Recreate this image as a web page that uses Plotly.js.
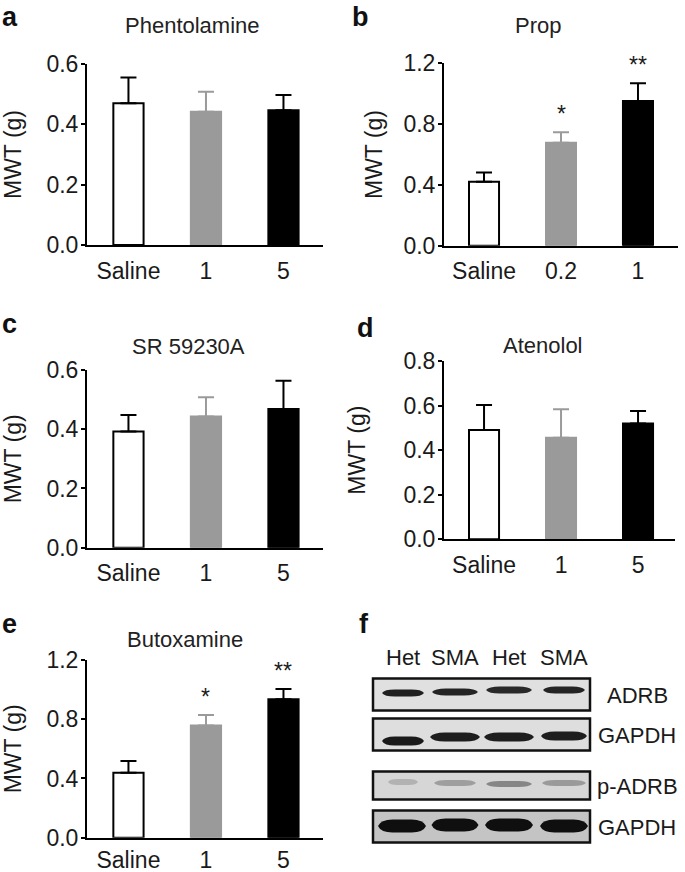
<!DOCTYPE html>
<html>
<head>
<meta charset="utf-8">
<script src="https://cdn.plot.ly/plotly-3.0.1.min.js"></script>
<style>html,body{margin:0;padding:0;background:#fff;}#chart{width:685px;height:872px;}</style>
</head>
<body>
<div id="chart"></div>
<script>
// ---------------- DATA ----------------
const catsA = ['Saline', '1', '5'];
const meanA = [0.470, 0.442, 0.447];
const errA  = [0.085, 0.066, 0.050];

const catsB = ['Saline', '0.2', '1'];
const meanB = [0.421, 0.678, 0.952];
const errB  = [0.060, 0.068, 0.116];
const starsB = ['', '*', '**'];

const catsC = ['Saline', '1', '5'];
const meanC = [0.392, 0.443, 0.468];
const errC  = [0.056, 0.065, 0.096];

const catsD = ['Saline', '1', '5'];
const meanD = [0.490, 0.456, 0.520];
const errD  = [0.113, 0.127, 0.056];

const catsE = ['Saline', '1', '5'];
const meanE = [0.439, 0.757, 0.935];
const errE  = [0.079, 0.072, 0.070];
const starsE = ['', '*', '**'];

const panelTitles = ['Phentolamine', 'Prop', 'SR 59230A', 'Atenolol', 'Butoxamine'];
const panelLetters = ['a', 'b', 'c', 'd', 'e', 'f'];
const yTitle = 'MWT (g)';

// Western blot (panel f)
const blotLanes = ['Het', 'SMA', 'Het', 'SMA'];
const blotRows = ['ADRB', 'GAPDH', 'p-ADRB', 'GAPDH'];
const bandADRB  = [0.92, 0.90, 0.88, 0.90];
const bandGAPDH1 = [0.95, 0.93, 0.93, 0.93];
const bandPADRB = [0.18, 0.28, 0.40, 0.30];
const bandGAPDH2 = [1.0, 1.0, 1.0, 1.0];

// ---------------- LAYOUT HELPERS ----------------
const W = 685, H = 872;
const px = x => x / W;
const py = y => 1 - y / H;
const FONT = 'Liberation Sans, Arial, Helvetica, sans-serif';
const TXT = '#1a1a1a';
const fills = ['#ffffff', '#9a9a9a', '#000000'];
const edges = ['#000000', '#9a9a9a', '#000000'];

// ly: null => anchor letter at the very top of the figure
const panels = [
  {cats: catsA, mean: meanA, err: errA, stars: null, xd: [87, 323], yd: [64, 245], xr: [-0.535, 2.51], yr: [0, 0.6], tv: [0, 0.2, 0.4, 0.6], tx: 192, ty: 25, lx: 10, ly: null, so: 24, xs: 4},
  {cats: catsB, mean: meanB, err: errB, stars: starsB, xd: [444, 678], yd: [63.3, 245.7], xr: [-0.52, 2.52], yr: [0, 1.2], tv: [0, 0.4, 0.8, 1.2], tx: 538, ty: 25, lx: 361, ly: null, so: 14, xs: 4},
  {cats: catsC, mean: meanC, err: errC, stars: null, xd: [87, 323], yd: [370, 547.7], xr: [-0.535, 2.51], yr: [0, 0.6], tv: [0, 0.2, 0.4, 0.6], tx: 188, ty: 346, lx: 9, ly: 324, so: 25, xs: 4},
  {cats: catsD, mean: meanD, err: errD, stars: null, xd: [444, 675], yd: [361, 539.3], xr: [-0.52, 2.48], yr: [0, 0.8], tv: [0, 0.2, 0.4, 0.6, 0.8], tx: 543, ty: 345, lx: 365, ly: 328, so: 31, xs: 4},
  {cats: catsE, mean: meanE, err: errE, stars: starsE, xd: [87, 323], yd: [660, 837.7], xr: [-0.535, 2.51], yr: [0, 1.2], tv: [0, 0.4, 0.8, 1.2], tx: 185, ty: 639, lx: 9, ly: 624, so: 27, xs: 1}
];

const data = [];
const layout = {
  width: W, height: H,
  margin: {l: 0, r: 0, t: 0, b: 0},
  paper_bgcolor: '#ffffff', plot_bgcolor: 'rgba(0,0,0,0)',
  showlegend: false,
  barmode: 'overlay',
  font: {family: FONT, size: 22, color: TXT},
  annotations: [],
  shapes: []
};

panels.forEach((p, k) => {
  const n = k + 1;
  const xa = n === 1 ? 'x' : 'x' + n;
  const ya = n === 1 ? 'y' : 'y' + n;
  p.cats.forEach((c, i) => {
    data.push({
      type: 'bar', xaxis: xa, yaxis: ya,
      x: [c], y: [p.mean[i]], width: [0.39],
      marker: {color: fills[i], line: {color: edges[i], width: 2}},
      error_y: {type: 'data', symmetric: false, array: [p.err[i]], arrayminus: [0],
                color: edges[i], thickness: 2, width: 8},
      hoverinfo: 'skip'
    });
    if (p.stars && p.stars[i]) {
      layout.annotations.push({
        xref: xa, yref: ya, x: i, y: p.mean[i] + p.err[i],
        text: p.stars[i], showarrow: false, yanchor: 'bottom', yshift: 3,
        font: {family: FONT, size: 23, color: TXT}
      });
    }
  });
  layout['xaxis' + (n === 1 ? '' : n)] = {
    domain: [px(p.xd[0]), px(p.xd[1])], anchor: ya, type: 'category',
    range: p.xr, fixedrange: true,
    showline: true, linecolor: '#000', linewidth: 2,
    ticks: '', showgrid: false, zeroline: false,
    ticklabelstandoff: p.xs,
    tickfont: {family: FONT, size: 23, color: TXT}
  };
  layout['yaxis' + (n === 1 ? '' : n)] = {
    domain: [py(p.yd[1]), py(p.yd[0])], anchor: xa,
    range: p.yr, fixedrange: true,
    tickvals: p.tv, tickformat: '.1f',
    showline: true, linecolor: '#000', linewidth: 2,
    ticks: 'outside', ticklen: 4, tickwidth: 2, tickcolor: '#000',
    ticklabelstandoff: -2,
    showgrid: false, zeroline: false,
    tickfont: {family: FONT, size: 23, color: TXT},
    title: {text: yTitle, font: {family: FONT, size: 23, color: TXT}, standoff: p.so}
  };
  layout.annotations.push({
    xref: 'paper', yref: 'paper', x: px(p.tx), y: py(p.ty),
    text: panelTitles[k], showarrow: false, xanchor: 'center', yanchor: 'middle',
    font: {family: FONT, size: 22, color: '#222'}
  });
  layout.annotations.push(p.ly === null ? {
    xref: 'paper', yref: 'paper', x: px(p.lx), y: 1,
    text: '<b>' + panelLetters[k] + '</b>', showarrow: false, xanchor: 'center', yanchor: 'top',
    font: {family: FONT, size: 27, color: '#111'}
  } : {
    xref: 'paper', yref: 'paper', x: px(p.lx), y: py(p.ly),
    text: '<b>' + panelLetters[k] + '</b>', showarrow: false, xanchor: 'center', yanchor: 'middle',
    font: {family: FONT, size: 27, color: '#111'}
  });
});

// ---------------- PANEL f: western blot ----------------
layout.annotations.push({
  xref: 'paper', yref: 'paper', x: px(364), y: py(624),
  text: '<b>' + panelLetters[5] + '</b>', showarrow: false, xanchor: 'center', yanchor: 'middle',
  font: {family: FONT, size: 27, color: '#111'}
});
const laneX = [403, 455, 509, 564];
blotLanes.forEach((l, i) => {
  layout.annotations.push({
    xref: 'paper', yref: 'paper', x: px(laneX[i]), y: py(657),
    text: l, showarrow: false, xanchor: 'center', yanchor: 'middle',
    font: {family: FONT, size: 22, color: TXT}
  });
});
const boxes = [
  {y0: 678.5, y1: 710.5, bg: '#e0e0e0', band: bandADRB,  yc: [693, 692, 690, 690], h: 7,  w: [42, 46, 46, 42]},
  {y0: 718.5, y1: 750.5, bg: '#dedede', band: bandGAPDH1, yc: [741, 737, 737, 736], h: 9,  w: [42, 50, 50, 46]},
  {y0: 771.5, y1: 799.5, bg: '#d6d6d6', band: bandPADRB, yc: [782, 783, 784, 783], h: 6,  w: [30, 42, 46, 44]},
  {y0: 810.5, y1: 842.5, bg: '#c4c4c4', band: bandGAPDH2, yc: [826, 825, 825, 826], h: 13, w: [48, 47, 48, 48]}
];
const boxX0 = 373, boxX1 = 590;
boxes.forEach((b, r) => {
  layout.shapes.push({
    type: 'rect', xref: 'paper', yref: 'paper',
    x0: px(boxX0), x1: px(boxX1), y0: py(b.y1), y1: py(b.y0),
    fillcolor: b.bg, line: {color: '#111', width: 2.5}, layer: 'above'
  });
  b.band.forEach((v, i) => {
    const xc = laneX[i] + (r === 3 && i === 0 ? -1 : 0);
    const x0 = xc - b.w[i] / 2, x1 = xc + b.w[i] / 2;
    const yt = b.yc[i] - b.h / 2, yb = b.yc[i] + b.h / 2, ym = b.yc[i];
    const w = x1 - x0;
    const P = (x, y) => px(x).toFixed(5) + ',' + py(y).toFixed(5);
    const path = 'M' + P(x0, ym) +
      ' Q' + P(x0 + 0.06 * w, yt) + ' ' + P(x0 + 0.3 * w, yt) +
      ' L' + P(x1 - 0.3 * w, yt) +
      ' Q' + P(x1 - 0.06 * w, yt) + ' ' + P(x1, ym) +
      ' Q' + P(x1 - 0.06 * w, yb) + ' ' + P(x1 - 0.3 * w, yb) +
      ' L' + P(x0 + 0.3 * w, yb) +
      ' Q' + P(x0 + 0.06 * w, yb) + ' ' + P(x0, ym) + ' Z';
    layout.shapes.push({
      type: 'path', xref: 'paper', yref: 'paper', path: path,
      fillcolor: 'rgba(15,15,15,' + v + ')', line: {width: 0}, layer: 'above'
    });
  });
  layout.annotations.push({
    xref: 'paper', yref: 'paper', x: px(637), y: py((b.y0 + b.y1) / 2 + 1),
    text: blotRows[r], showarrow: false, xanchor: 'center', yanchor: 'middle',
    font: {family: FONT, size: 22, color: TXT}
  });
});

Plotly.newPlot('chart', data, layout, {staticPlot: true, displayModeBar: false});
</script>
</body>
</html>
